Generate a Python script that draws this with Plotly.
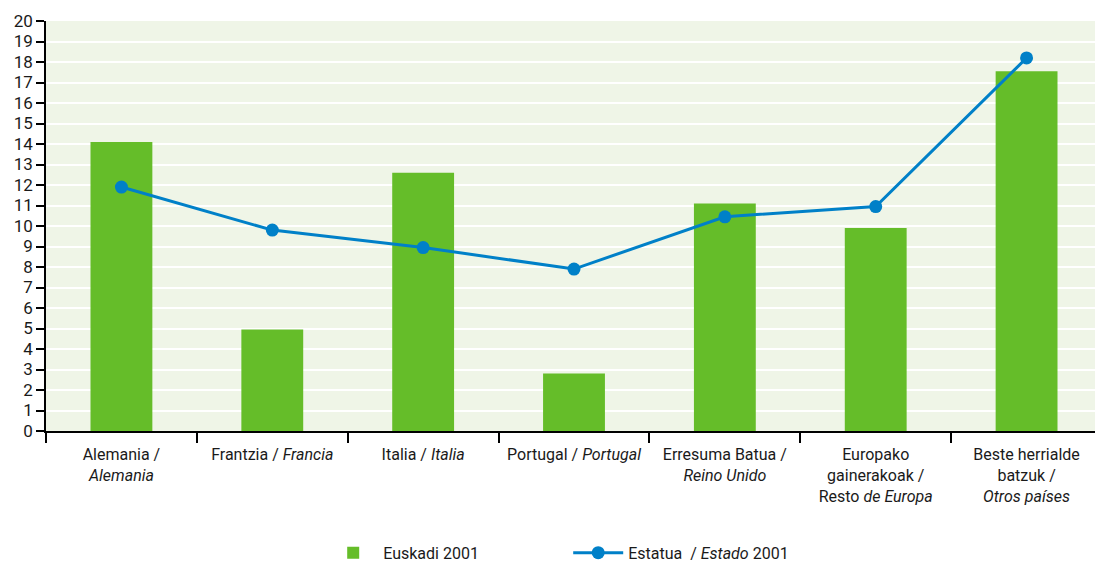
import plotly.graph_objects as go

categories = [
    "Alemania /<br><i>Alemania</i>",
    "Frantzia / <i>Francia</i>",
    "Italia / <i>Italia</i>",
    "Portugal / <i>Portugal</i>",
    "Erresuma Batua /<br><i>Reino Unido</i>",
    "Europako<br>gainerakoak /<br>Resto <i>de Europa</i>",
    "Beste herrialde<br>batzuk /<br><i>Otros países</i>",
]
euskadi_2001 = [14.1, 4.95, 12.6, 2.8, 11.1, 9.9, 17.55]
estado_2001 = [11.9, 9.8, 8.95, 7.9, 10.45, 10.95, 18.2]
y_ticks = list(range(0, 21))

FONT = "Roboto, Liberation Sans, sans-serif"

fig = go.Figure()
fig.add_trace(go.Bar(
    x=categories, y=euskadi_2001, name="Euskadi 2001",
    marker=dict(color="#65bd29", line=dict(width=0)), width=0.41,
))
fig.add_trace(go.Scatter(
    x=categories, y=estado_2001, name="Estatua  / <i>Estado</i> 2001",
    mode="lines+markers",
    line=dict(color="#0080c8", width=3),
    marker=dict(color="#0080c8", size=13),
))

fig.update_layout(
    width=1102, height=564,
    margin=dict(l=46, r=0, t=21, b=133, autoexpand=False),
    paper_bgcolor="white",
    plot_bgcolor="#eff5e7",
    font=dict(family=FONT, size=16, color="#1a1a1a"),
    showlegend=True,
    legend=dict(
        orientation="h", x=0.2625, xanchor="left", y=-0.297, yanchor="middle",
        font=dict(size=16), itemwidth=50, entrywidth=180, traceorder="normal",
    ),
    bargap=0.59,
)
fig.update_xaxes(
    type="category", tickson="boundaries", ticks="outside", ticklen=10,
    tickcolor="black", tickwidth=1.5, showline=True, linecolor="black", linewidth=1.5,
    showgrid=False, tickfont=dict(size=16), range=[-0.5, 6.5],
    tickangle=0, automargin=False, ticklabelstandoff=8,
)
fig.update_yaxes(
    range=[0, 20], tickvals=y_ticks, ticktext=[str(v) for v in y_ticks],
    ticks="outside", ticklen=8, tickcolor="black", tickwidth=1.5,
    showline=True, linecolor="black", linewidth=1.5,
    showgrid=True, gridcolor="white", gridwidth=2, zeroline=False,
    tickfont=dict(size=17), automargin=False,
)

fig.write_html(
    "out.html",
    config={"displayModeBar": False},
    post_script="document.body.style.margin='0';document.body.style.overflow='hidden';",
)
